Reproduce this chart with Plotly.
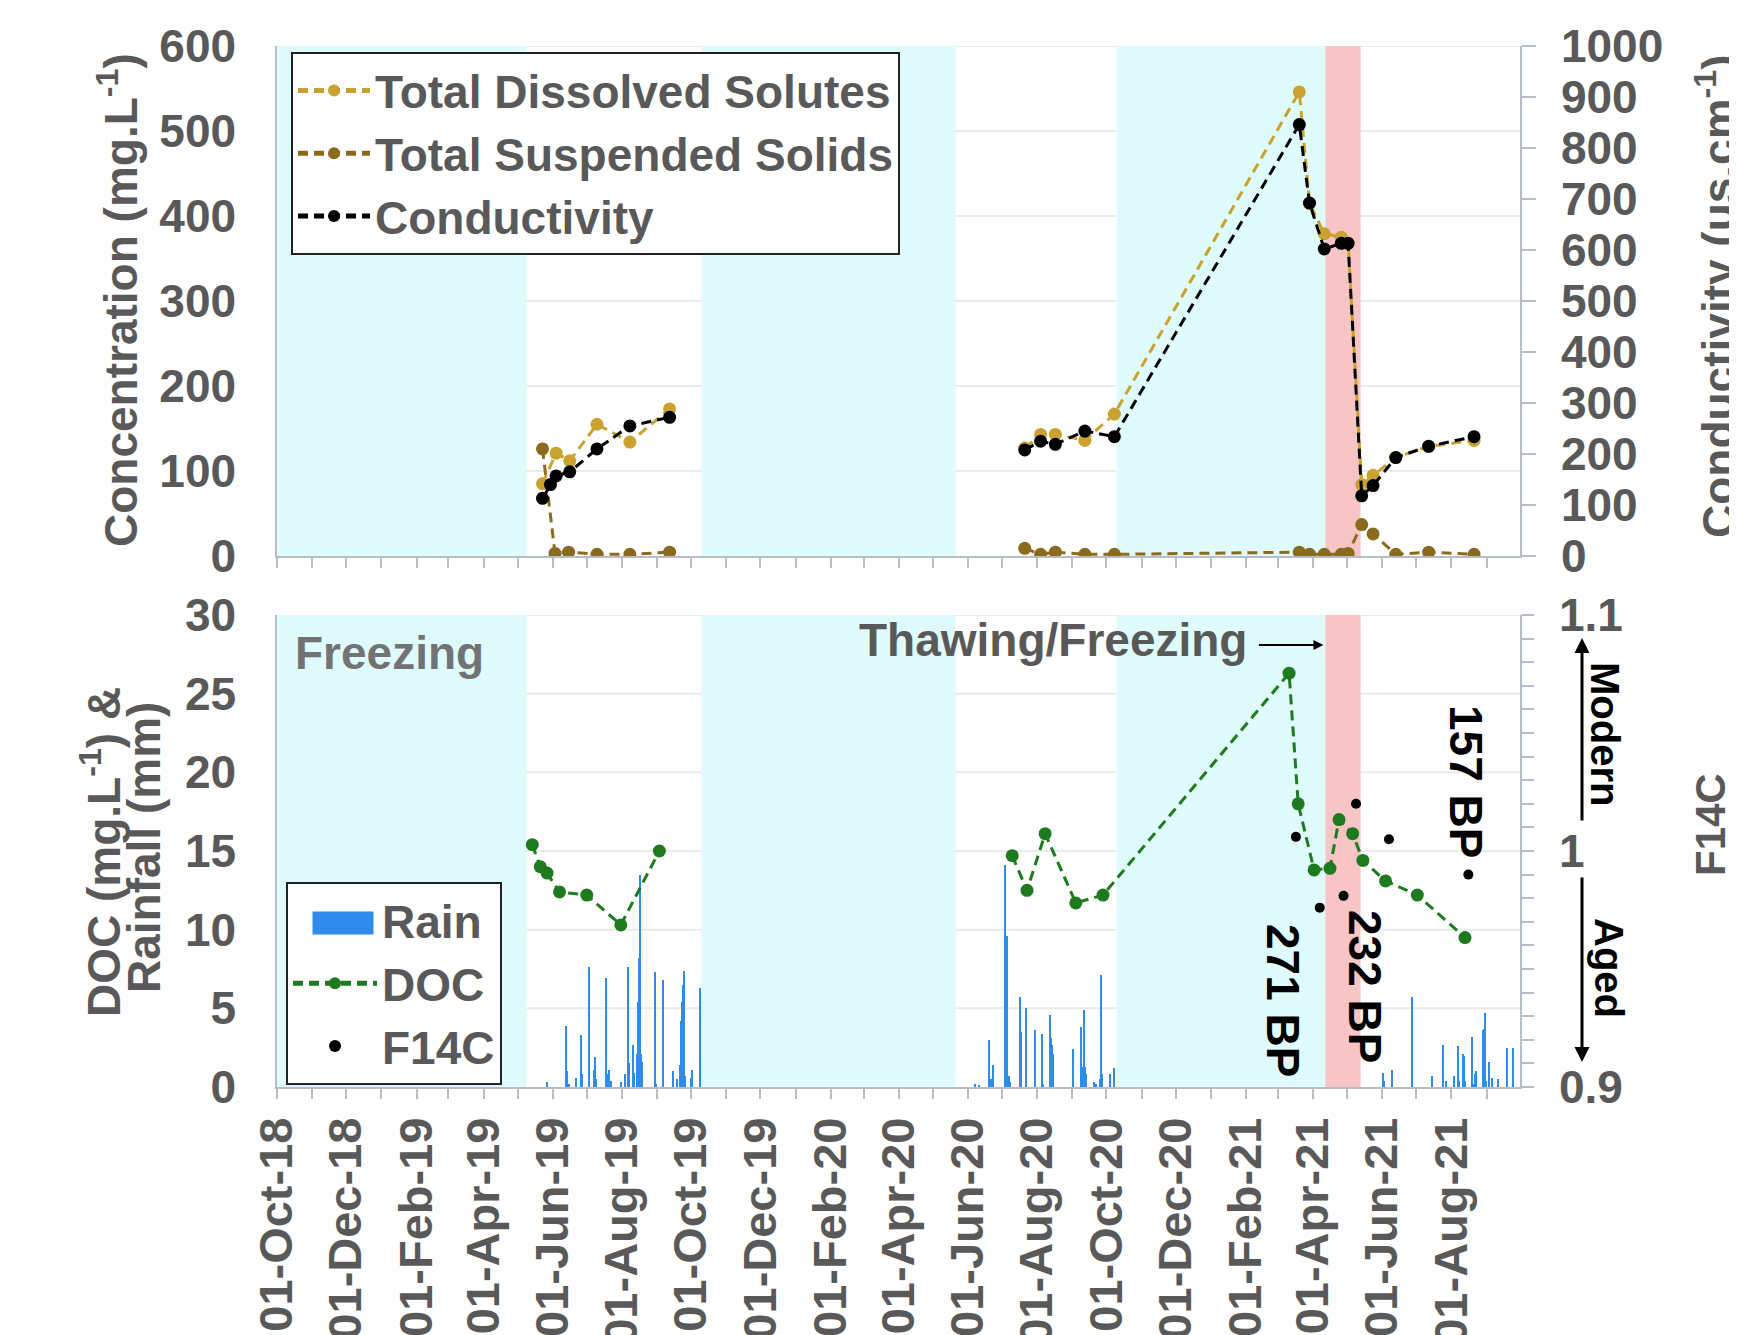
import plotly.graph_objects as go
import pandas as pd

# ---------------- DATA ----------------
tds_dates = ["2019-05-23", "2019-06-04", "2019-06-16", "2019-07-10", "2019-08-08", "2019-09-12",
             "2020-07-21", "2020-08-04", "2020-08-17", "2020-09-12", "2020-10-08",
             "2021-03-20", "2021-03-29", "2021-04-11", "2021-04-26", "2021-05-02", "2021-05-14",
             "2021-05-24", "2021-06-13", "2021-07-12", "2021-08-21"]
tds_vals = [85, 121, 112, 155, 134, 173,
            127, 143, 143, 136, 167,
            546, 415, 379, 375, 368, 84, 95, 116, 129, 136]

tss_dates = ["2019-05-23", "2019-06-03", "2019-06-15", "2019-07-10", "2019-08-08", "2019-09-12",
             "2020-07-21", "2020-08-04", "2020-08-17", "2020-09-12", "2020-10-08",
             "2021-03-20", "2021-03-29", "2021-04-11", "2021-04-26", "2021-05-02", "2021-05-14",
             "2021-05-24", "2021-06-13", "2021-07-12", "2021-08-21"]
tss_vals = [126, 3, 4.5, 2, 2, 4.5,
            9, 2, 4.5, 2, 2,
            4.5, 2, 2, 2, 3, 37, 26, 2, 4.5, 2]

cond_dates = ["2019-05-23", "2019-05-30", "2019-06-04", "2019-06-16", "2019-07-10", "2019-08-08", "2019-09-12",
              "2020-07-21", "2020-08-04", "2020-08-17", "2020-09-12", "2020-10-08",
              "2021-03-20", "2021-03-29", "2021-04-11", "2021-04-26", "2021-05-02", "2021-05-14",
              "2021-05-24", "2021-06-13", "2021-07-12", "2021-08-21"]
cond_vals = [113, 140, 157, 165, 210, 255, 272,
             208, 225, 219, 245, 234,
             846, 692, 602, 613, 613, 118, 138, 193, 215, 234]

doc_dates = ["2019-05-14", "2019-05-21", "2019-05-27", "2019-06-07", "2019-07-01", "2019-07-31", "2019-09-03",
             "2020-07-10", "2020-07-23", "2020-08-08", "2020-09-04", "2020-09-28",
             "2021-03-11", "2021-03-19", "2021-04-02", "2021-04-16", "2021-04-24", "2021-05-06",
             "2021-05-15", "2021-06-04", "2021-07-02", "2021-08-13"]
doc_vals = [15.4, 14.0, 13.6, 12.4, 12.2, 10.3, 15.0,
            14.7, 12.5, 16.1, 11.7, 12.2,
            26.3, 18.0, 13.8, 13.9, 17.0, 16.1, 14.4, 13.1, 12.2, 9.5]

f14c_dates = ["2021-03-17", "2021-04-07", "2021-04-28", "2021-05-09", "2021-06-07", "2021-08-16"]
f14c_vals = [1.006, 0.976, 0.981, 1.020, 1.005, 0.990]

rain_dates = [
    "2019-05-27", "2019-06-13", "2019-06-14", "2019-06-15", "2019-06-22", "2019-06-26", "2019-06-27",
    "2019-07-03", "2019-07-07", "2019-07-08", "2019-07-09", "2019-07-18", "2019-07-20", "2019-07-21",
    "2019-07-22", "2019-07-31", "2019-08-04", "2019-08-06", "2019-08-07", "2019-08-11", "2019-08-12",
    "2019-08-14", "2019-08-15", "2019-08-16", "2019-08-17", "2019-08-18", "2019-08-19", "2019-08-30",
    "2019-08-31", "2019-09-06", "2019-09-15", "2019-09-19", "2019-09-21", "2019-09-22", "2019-09-23",
    "2019-09-24", "2019-09-25", "2019-09-26", "2019-10-01", "2019-10-02", "2019-10-09",
    "2020-06-07", "2020-06-11", "2020-06-20", "2020-06-21", "2020-06-23", "2020-07-04", "2020-07-05",
    "2020-07-07", "2020-07-08", "2020-07-17", "2020-07-18", "2020-07-22", "2020-07-30", "2020-08-05",
    "2020-08-06", "2020-08-12", "2020-08-13", "2020-08-14", "2020-08-15", "2020-09-02", "2020-09-09",
    "2020-09-10", "2020-09-11", "2020-09-12", "2020-09-13", "2020-09-20", "2020-09-22", "2020-09-25",
    "2020-09-26", "2020-09-27", "2020-10-04", "2020-10-08",
    "2021-06-02", "2021-06-03", "2021-06-10", "2021-06-27", "2021-07-15", "2021-07-25", "2021-07-27",
    "2021-08-03", "2021-08-07", "2021-08-08", "2021-08-11", "2021-08-12", "2021-08-13", "2021-08-19",
    "2021-08-20", "2021-08-22", "2021-08-23", "2021-08-29", "2021-08-30", "2021-08-31", "2021-09-01",
    "2021-09-03", "2021-09-06", "2021-09-11", "2021-09-19", "2021-09-24"]
rain_mm = [
    0.3, 3.9, 1.0, 0.2, 0.6, 3.3, 0.8,
    7.6, 1.1, 1.9, 0.5, 6.9, 0.8, 1.1,
    0.4, 0.3, 0.8, 7.6, 1.5, 2.7, 0.9,
    2.1, 5.4, 8.2, 13.5, 2.1, 1.6, 7.3,
    0.2, 6.8, 1.0, 0.5, 1.4, 4.2, 5.4,
    6.5, 7.4, 0.7, 0.6, 1.1, 6.3,
    0.2, 0.1, 3.0, 0.5, 1.4, 14.1, 9.6,
    0.7, 0.3, 5.7, 3.5, 5.0, 3.6, 3.4,
    0.2, 4.6, 3.1, 2.7, 2.1, 2.4, 3.8,
    1.3, 4.9, 1.3, 0.8, 0.3, 0.2, 0.5,
    7.1, 0.8, 0.8, 1.2,
    0.9, 0.4, 1.1, 5.7, 0.7, 2.7, 0.4,
    0.7, 2.6, 0.4, 2.1, 2.0, 0.4, 3.2,
    0.2, 0.8, 1.0, 3.6, 3.7, 4.7, 0.4,
    1.6, 0.6, 0.5, 2.5, 2.5]

freeze_periods = [("2018-10-01", "2019-05-09"), ("2019-10-10", "2020-05-21"), ("2020-10-10", "2021-04-12")]
thaw_freeze_period = ("2021-04-12", "2021-05-13")

conc_grid = [100, 200, 300, 400, 500, 600]
doc_grid = [5, 10, 15, 20, 25, 30]

x_range = ["2018-10-01", "2021-09-30 12:00"]

# ---------------- HELPERS ----------------
def with_gaps(dates, vals, max_gap_days=200):
    """Insert a None break where sampling campaigns are separated by a long gap."""
    out_d, out_v = [], []
    prev = None
    for d, v in zip(dates, vals):
        t = pd.Timestamp(d)
        if prev is not None and (t - prev).days > max_gap_days:
            mid = prev + (t - prev) / 2
            out_d.append(mid.strftime("%Y-%m-%d"))
            out_v.append(None)
        out_d.append(d)
        out_v.append(v)
        prev = t
    return out_d, out_v

FONT = "Liberation Sans, Arial, sans-serif"
GREY = "#595959"
AXIS = "#B7BEC7"
GRID = "#EBEBEB"
FS = 46

C_TDS = "#C9A230"
C_TSS = "#8A6A1C"
C_COND = "#000000"
C_DOC = "#1E7A1E"
C_RAIN = "#2F8CEA"
C_CYAN = "#DFFBFC"
C_PINK = "#F8C5C7"

DASH = "10px,6px"
MS = 13

fig = go.Figure()

# ---- top panel ----
d, v = with_gaps(tds_dates, tds_vals)
fig.add_trace(go.Scatter(x=d, y=v, name="Total Dissolved Solutes", mode="lines+markers",
                         line=dict(color=C_TDS, width=3, dash=DASH), marker=dict(color=C_TDS, size=MS),
                         xaxis="x2", yaxis="y", legend="legend"))
d, v = with_gaps(tss_dates, tss_vals)
fig.add_trace(go.Scatter(x=d, y=v, name="Total Suspended Solids", mode="lines+markers",
                         line=dict(color=C_TSS, width=3, dash=DASH), marker=dict(color=C_TSS, size=MS),
                         xaxis="x2", yaxis="y", legend="legend"))
d, v = with_gaps(cond_dates, cond_vals)
fig.add_trace(go.Scatter(x=d, y=v, name="Conductivity", mode="lines+markers",
                         line=dict(color=C_COND, width=3, dash=DASH), marker=dict(color=C_COND, size=MS),
                         xaxis="x2", yaxis="y2", legend="legend"))

# ---- bottom panel ----
fig.add_trace(go.Bar(x=rain_dates, y=rain_mm, name="Rain", marker=dict(color=C_RAIN, line=dict(width=0)),
                     width=86400000 * 1.0, xaxis="x", yaxis="y3", showlegend=False))
# legend entry for rain (its wide blue swatch is added as an annotation box below)
fig.add_trace(go.Scatter(x=[None], y=[None], name="Rain", mode="lines",
                         line=dict(color="rgba(0,0,0,0)", width=1), xaxis="x", yaxis="y3", legend="legend2"))
d, v = with_gaps(doc_dates, doc_vals)
fig.add_trace(go.Scatter(x=d, y=v, name="DOC", mode="lines+markers",
                         line=dict(color=C_DOC, width=3, dash=DASH), marker=dict(color=C_DOC, size=MS),
                         xaxis="x", yaxis="y3", legend="legend2"))
fig.add_trace(go.Scatter(x=f14c_dates, y=f14c_vals, name="F14C", mode="markers",
                         marker=dict(color="black", size=10),
                         xaxis="x", yaxis="y4", legend="legend2"))

# ---- gridlines (drawn as shapes so that the shaded periods cover them) + shaded periods ----
shapes = []
for yref, vals in [("y", conc_grid), ("y3", doc_grid)]:
    for g in vals:
        shapes.append(dict(type="line", xref="paper", yref=yref, x0=0, x1=1, y0=g, y1=g,
                           line=dict(color=GRID, width=2), layer="below"))
for yref in ["y domain", "y3 domain"]:
    for a, b in freeze_periods:
        shapes.append(dict(type="rect", xref="x", yref=yref, x0=a, x1=b, y0=0, y1=1,
                           fillcolor=C_CYAN, line=dict(width=0), layer="below"))
    shapes.append(dict(type="rect", xref="x", yref=yref, x0=thaw_freeze_period[0], x1=thaw_freeze_period[1],
                       y0=0, y1=1, fillcolor=C_PINK, line=dict(width=0), layer="below"))

# ---- layout geometry (page pixels -> paper); the page body adds an 8 px offset ----
OFF = 8
W, H = 1737 - OFF, 1335 - OFF
ML, MT = 277 - OFF, 46 - OFF
MR = W - (1520 - OFF)
MB = H - (1087 - OFF)
PW = W - ML - MR
PH = H - MT - MB


def px(xp):
    return (xp - OFF - ML) / PW


def py(yp):
    return (H - MB - (yp - OFF)) / PH


top_dom = [py(556), 1.0]
bot_dom = [0.0, py(615)]

tickfont = dict(family=FONT, size=FS, color=GREY, weight="bold")
xtickfont = dict(family=FONT, size=47, color=GREY, weight="bold")

xcommon = dict(type="date", range=x_range, showline=True, linecolor=AXIS, linewidth=1.5,
               ticks="outside", ticklen=10, tickcolor=AXIS, tickwidth=1.5, automargin=False,
               tick0="2018-10-01", dtick="M2", showgrid=False, zeroline=False,
               minor=dict(dtick="M1", tick0="2018-10-01", ticks="outside", ticklen=10,
                          tickcolor=AXIS, tickwidth=1.5, showgrid=False))

legfont = dict(family=FONT, size=FS, color=GREY, weight="bold")

layout = dict(
    width=W, height=H, autosize=False,
    margin=dict(l=ML, r=MR, t=MT, b=MB, autoexpand=False),
    paper_bgcolor="white", plot_bgcolor="white",
    font=dict(family=FONT, size=FS, color=GREY, weight="bold"),
    showlegend=True,
    bargap=0,
    xaxis=dict(**xcommon, domain=[0, 1], anchor="y3", tickformat="%d-%b-%y", tickangle=-90,
               tickfont=xtickfont),
    xaxis2=dict(**xcommon, domain=[0, 1], anchor="y", matches="x", showticklabels=False),
    yaxis=dict(domain=top_dom, anchor="x2", range=[0, 600], dtick=100, showline=True, linecolor=AXIS,
               linewidth=1.5, showgrid=False, zeroline=False, ticks="", automargin=False,
               tickfont=tickfont, ticklabelstandoff=30),
    yaxis2=dict(overlaying="y", side="right", anchor="x2", range=[0, 1000], dtick=100, showline=True,
                linecolor=AXIS, linewidth=1.5, showgrid=False, zeroline=False, ticks="outside", ticklen=14,
                tickcolor=AXIS, tickwidth=1.5, tickfont=tickfont, ticklabelstandoff=16, automargin=False),
    yaxis3=dict(domain=bot_dom, anchor="x", range=[0, 30], dtick=5, showline=True, linecolor=AXIS,
                linewidth=1.5, showgrid=False, zeroline=False, ticks="", automargin=False,
                tickfont=tickfont, ticklabelstandoff=30),
    yaxis4=dict(overlaying="y3", side="right", anchor="x", range=[0.9, 1.1], dtick=0.1, showline=True,
                linecolor=AXIS, linewidth=1.5, showgrid=False, zeroline=False, ticks="outside", ticklen=12,
                tickcolor=AXIS, tickwidth=1.5, tickfont=tickfont, ticklabelstandoff=16, automargin=False,
                minor=dict(dtick=0.01, ticks="outside", ticklen=12, tickcolor=AXIS, tickwidth=1.5,
                           showgrid=False)),
    legend=dict(x=px(291), y=py(52), xanchor="left", yanchor="top", bgcolor="white",
                bordercolor="#222222", borderwidth=2, font=legfont, itemwidth=72,
                tracegroupgap=0, itemsizing="constant"),
    legend2=dict(x=px(286), y=py(882), xanchor="left", yanchor="top", bgcolor="white",
                 bordercolor="#222222", borderwidth=2, font=legfont, itemwidth=84,
                 tracegroupgap=0, itemsizing="constant"),
    shapes=shapes,
)

ann = []


def A(**k):
    base = dict(xref="paper", yref="paper", showarrow=False,
                font=dict(family=FONT, size=FS, color=GREY, weight="bold"))
    base.update(k)
    ann.append(base)


# axis titles
A(text="Concentration (mg.L<sup>-1</sup>)", x=px(118), y=py(300), textangle=-90, xanchor="center", yanchor="middle")
A(text="DOC (mg.L<sup>-1</sup>) &", x=px(101), y=py(852), textangle=-90, xanchor="center", yanchor="middle")
A(text="Rainfall (mm)", x=px(144), y=py(848), textangle=-90, xanchor="center", yanchor="middle")
A(text="Conductivity (us.cm<sup>-1</sup>)", x=px(1716), y=py(296), textangle=-90, xanchor="center", yanchor="middle")
A(text="F14C", x=px(1710), y=py(825), textangle=-90, xanchor="center", yanchor="middle",
  font=dict(family=FONT, size=42, color=GREY, weight="bold"))

# rain legend swatch (wide blue rectangle)
A(text=" ", x=px(343), y=py(923), xanchor="center", yanchor="middle", width=60, height=22,
  bgcolor=C_RAIN, borderpad=0, font=dict(family=FONT, size=4, color=C_RAIN))

# period labels
A(text="Freezing", x=px(293), y=py(653), xanchor="left", yanchor="middle",
  font=dict(family=FONT, size=FS, color="#737373", weight="bold"))
A(text="Thawing/Freezing", x=px(1249), y=py(640), xanchor="right", yanchor="middle")
ann.append(dict(xref="x", yref="paper", x=thaw_freeze_period[0], y=py(645), text="", showarrow=True,
                ax=-68, ay=0, arrowhead=2, arrowsize=1, arrowwidth=2, arrowcolor="black",
                standoff=2, startstandoff=0))

# radiocarbon ages
blk = dict(family=FONT, size=FS, color="black", weight="bold")
A(text="271 BP", x=px(1283), y=py(1000), textangle=90, xanchor="center", yanchor="middle", font=blk)
A(text="232 BP", x=px(1365), y=py(986), textangle=90, xanchor="center", yanchor="middle", font=blk)
A(text="157 BP", x=px(1466), y=py(781), textangle=90, xanchor="center", yanchor="middle", font=blk)

# Modern / Aged indicators
blk2 = dict(family=FONT, size=40, color="black", weight="bold")
A(text="Modern", x=px(1605), y=py(734), textangle=90, xanchor="center", yanchor="middle", font=blk2)
A(text="Aged", x=px(1609), y=py(968), textangle=90, xanchor="center", yanchor="middle", font=blk2)
ann.append(dict(xref="paper", yref="paper", x=px(1582), y=py(638), text="", showarrow=True,
                ax=0, ay=184, arrowhead=2, arrowsize=1, arrowwidth=3, arrowcolor="black",
                standoff=0, startstandoff=0))
ann.append(dict(xref="paper", yref="paper", x=px(1582), y=py(1062), text="", showarrow=True,
                ax=0, ay=-186, arrowhead=2, arrowsize=1, arrowwidth=3, arrowcolor="black",
                standoff=0, startstandoff=0))

layout["annotations"] = ann
fig.update_layout(**layout)

fig.write_html("out.html")
